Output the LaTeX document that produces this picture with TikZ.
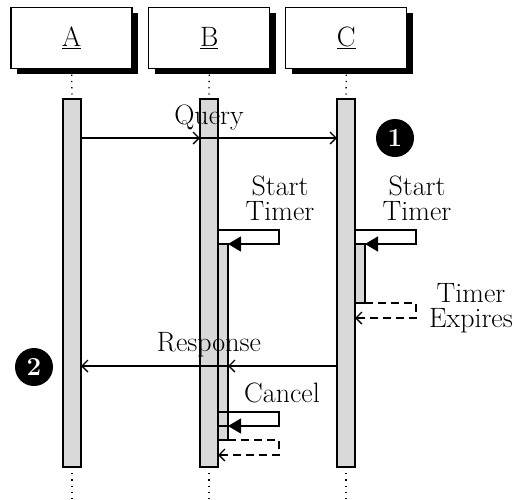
\documentclass[tikz,border=0pt]{standalone}
\usetikzlibrary{arrows.meta,shadows}
\begin{document}
\begin{tikzpicture}[x=1pt,y=-1pt,
  font=\fontsize{28}{25}\selectfont,
  every node/.style={inner sep=0pt, outer sep=0pt},
  objbox/.style={draw, fill=white, line width=1.3pt, minimum width=121pt, minimum height=61pt,
    drop shadow={shadow xshift=6pt, shadow yshift=-5pt, opacity=1, fill=black}},
  bar/.style={draw, fill=gray!30, line width=1.3pt, minimum width=18pt},
  nbar/.style={draw, fill=gray!30, line width=1.3pt, minimum width=10pt},
  lifeline/.style={line width=1.3pt, dash pattern=on 1.2pt off 5pt},
  msg/.style={line width=1.3pt, -{Straight Barb[length=6pt,width=12pt]}},
  selfcall/.style={line width=1.3pt, -{Triangle[length=13pt,width=15pt]}},
  ret/.style={line width=1.3pt, dash pattern=on 8pt off 5pt, -{Straight Barb[length=6pt,width=12pt]}},
  lbl/.style={align=center},
  num/.style={circle, fill=black, minimum size=38pt, text=white, font=\fontsize{26}{25}\selectfont\bfseries}
]
\useasboundingbox (0,0) rectangle (514,499);
% objects
\node[objbox] (A) at (71.6,38) {\underline{A}};
\node[objbox] (B) at (209.2,38) {\underline{B}};
\node[objbox] (C) at (346.3,38) {\underline{C}};
% activation bars
\node[bar, minimum height=368pt] (barA) at (72,283) {};
\node[bar, minimum height=368pt] (barB) at (209,283) {};
\node[bar, minimum height=368pt] (barC) at (346,283) {};
\node[nbar, minimum height=196pt] (nB) at (223,342) {};
\node[nbar, minimum height=14pt] (nB2) at (223,433) {};
\node[nbar, minimum height=59pt] (nC) at (360,273.5) {};
% helper coordinates
\coordinate (yq) at (0,138);
\coordinate (yt1) at (0,230);
\coordinate (yt2) at (0,244);
\coordinate (yr) at (0,366);
\coordinate (yc1) at (0,412);
\coordinate (yc2) at (0,426);
\coordinate (yrb) at (0,455);
\coordinate (yrc) at (0,318);
\coordinate (xB) at (279,0);
\coordinate (xC) at (416,0);
\coordinate (endA) at (72,499);
\coordinate (endB) at (209,499);
\coordinate (endC) at (346,499);
% lifelines
\draw[lifeline] (A.south) -- (barA.north);
\draw[lifeline] (B.south) -- (barB.north);
\draw[lifeline] (C.south) -- (barC.north);
\draw[lifeline] (barA.south) -- (endA);
\draw[lifeline] (barB.south) -- (endB);
\draw[lifeline] (barC.south) -- (endC);
% query
\draw[msg] (barA.east |- yq) -- (barB.west |- yq);
\draw[msg] (barB.west |- yq) -- (barC.west |- yq);
\node[anchor=base] (lq) at (209,124) {Query};
% start timers
\draw[selfcall] (barB.east |- yt1) -- (xB |- yt1) -- (xB |- yt2) -- (nB.north east);
\node[lbl, anchor=base] (lsB) at (280,220) {Start\\Timer};
\draw[selfcall] (barC.east |- yt1) -- (xC |- yt1) -- (xC |- yt2) -- (nC.north east);
\node[lbl, anchor=base] (lsC) at (417,220) {Start\\Timer};
% timer expires
\draw[ret] (nC.south east) -- (xC |- nC.south) -- (xC |- yrc) -- (barC.east |- yrc);
\node[lbl, anchor=base] (lte) at (471,327) {Timer\\Expires};
% response
\draw[msg] (barC.west |- yr) -- (nB.east |- yr);
\draw[msg] (nB.east |- yr) -- (barA.east |- yr);
\node[anchor=base] (lr) at (209,351) {Response};
% cancel
\draw[selfcall] (nB.west |- yc1) -- (xB |- yc1) -- (xB |- yc2) -- (nB2.north east);
\node[anchor=base] (lc) at (282,402) {Cancel};
\draw[ret] (nB.south east) -- (xB |- nB.south) -- (xB |- yrb) -- (barB.east |- yrb);
% numbers
\node[num] (n1) at (395,138) {1};
\node[num] (n2) at (34,367) {2};
\end{tikzpicture}
\end{document}
